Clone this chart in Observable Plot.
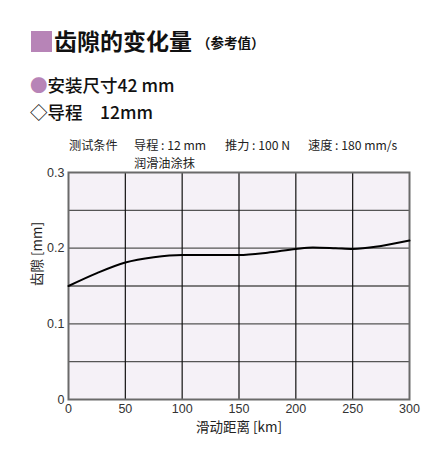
<!DOCTYPE html>
<html><head><meta charset="utf-8">
<script src="https://cdn.jsdelivr.net/npm/d3@7"></script>
<script src="https://cdn.jsdelivr.net/npm/@observablehq/plot@0.6"></script>
<style>
html,body{margin:0;padding:0;background:#fff;width:448px;height:460px;overflow:hidden;}
body{position:relative;font-family:"Noto Sans CJK SC","Noto Sans",sans-serif;color:#111;}
.abs{position:absolute;white-space:nowrap;line-height:1;}
#chart{position:absolute;left:0;top:130px;}
.cond{font-size:12.2px;color:#222;line-height:12px;height:12px;}
</style></head>
<body>
<div class="abs" style="left:31px;top:31px;width:21px;height:21px;background:#b784b7;"></div>
<div class="abs" style="left:54px;top:29px;font-size:23px;font-weight:bold;color:#111;">齿隙的变化量<span style="font-size:13.5px;margin-left:5px;position:relative;top:-2px;">（参考值）</span></div>
<div class="abs" style="left:30px;top:76px;font-size:17.5px;font-weight:500;"><span style="color:#b784b7;">●</span>安装尺寸42 mm</div>
<div class="abs" style="left:30px;top:103px;font-size:17.5px;font-weight:500;">◇导程　12mm</div>
<div class="abs cond" style="left:69px;top:139px;">测试条件</div>
<div class="abs cond" style="left:134px;top:139px;">导程 : 12 mm</div>
<div class="abs cond" style="left:225px;top:139px;">推力 : 100 N</div>
<div class="abs cond" style="left:308px;top:139px;">速度 : 180 mm/s</div>
<div class="abs cond" style="left:134px;top:157px;">润滑油涂抹</div>
<div id="chart"></div>
<script>
const distance = [0, 25, 50, 75, 100, 125, 150, 175, 200, 215, 235, 250, 275, 300];
const backlash = [0.15, 0.167, 0.181, 0.188, 0.191, 0.191, 0.191, 0.194, 0.199, 0.201, 0.2, 0.199, 0.203, 0.21];
const xTicks = [0, 50, 100, 150, 200, 250, 300];
const yTicks = [0, 0.1, 0.2, 0.3];
const yGrid = [0.05, 0.1, 0.15, 0.2, 0.25];
const xGrid = [50, 100, 150, 200, 250];
const xLabel = "滑动距离 [km]";
const yLabel = "齿隙 [mm]";

const data = distance.map((d, i) => ({d, v: backlash[i]}));

const chart = Plot.plot({
  width: 448,
  height: 320,
  marginLeft: 68,
  marginRight: 39,
  marginTop: 42,
  marginBottom: 51,
  style: {fontFamily: "'Liberation Sans', Arial, sans-serif", fontSize: "12.5px", color: "#333", background: "transparent"},
  x: {domain: [0, 300]},
  y: {domain: [0, 0.3]},
  marks: [
    Plot.frame({fill: "#f5f1f7", stroke: null}),
    Plot.ruleY(yGrid, {stroke: "#555", strokeWidth: 1.3}),
    Plot.ruleX(xGrid, {stroke: "#111", strokeWidth: 1.2}),
    Plot.frame({stroke: "#6a6a6a", strokeWidth: 2}),
    Plot.line(data, {x: "d", y: "v", curve: "monotone-x", stroke: "#000", strokeWidth: 2}),
    Plot.axisX(xTicks, {tickSize: 0, tickPadding: 5, label: null, fill: "#333"}),
    Plot.axisY(yTicks, {tickSize: 0, tickPadding: 4, label: null, fill: "#333", tickFormat: d => `${d}`}),
    Plot.text([xLabel], {frameAnchor: "bottom", dy: 32, fontFamily: "'Noto Sans CJK SC', sans-serif", fontSize: 13.5, fill: "#222"}),
    Plot.text([yLabel], {frameAnchor: "left", dx: -31, rotate: -90, fontFamily: "'Noto Sans CJK SC', sans-serif", fontSize: 13.5, fill: "#222"})
  ]
});
document.getElementById("chart").appendChild(chart);
</script>
</body></html>
